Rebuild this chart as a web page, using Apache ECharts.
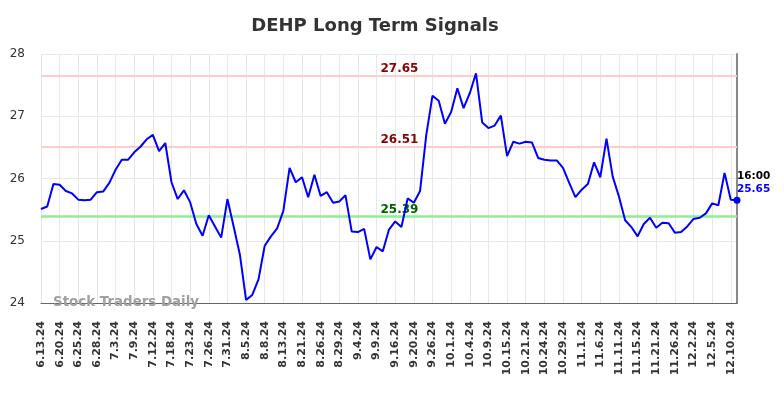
<!DOCTYPE html>
<html>
<head>
<meta charset="utf-8">
<script src="https://cdn.jsdelivr.net/npm/echarts@6/dist/echarts.min.js"></script>
<style>
html,body{margin:0;padding:0;background:#fff;}
#chart{width:784px;height:398px;}
</style>
</head>
<body>
<div id="chart"></div>
<script>
var titleText = 'DEHP Long Term Signals';
var watermarkText = 'Stock Traders Daily';
var tickLabels = ['6.13.24','6.20.24','6.25.24','6.28.24','7.3.24','7.9.24','7.12.24','7.18.24','7.23.24','7.26.24','7.31.24','8.5.24','8.8.24','8.13.24','8.21.24','8.26.24','8.29.24','9.4.24','9.9.24','9.16.24','9.20.24','9.26.24','10.1.24','10.4.24','10.9.24','10.15.24','10.21.24','10.24.24','10.29.24','11.1.24','11.6.24','11.11.24','11.15.24','11.21.24','11.26.24','12.2.24','12.5.24','12.10.24'];
var pointsPerTick = 3;
var prices = [25.51,25.55,25.91,25.90,25.80,25.76,25.66,25.65,25.66,25.78,
  25.79,25.93,26.14,26.30,26.30,26.42,26.51,26.63,26.70,26.44,
  26.57,25.94,25.67,25.81,25.62,25.27,25.08,25.41,25.23,25.05,
  25.67,25.23,24.78,24.05,24.13,24.38,24.92,25.07,25.20,25.48,
  26.17,25.94,26.02,25.70,26.06,25.72,25.78,25.61,25.63,25.73,
  25.15,25.14,25.19,24.70,24.90,24.83,25.18,25.31,25.22,25.68,
  25.61,25.80,26.70,27.33,27.25,26.88,27.07,27.45,27.13,27.37,
  27.69,26.90,26.81,26.85,27.01,26.36,26.59,26.56,26.59,26.58,
  26.33,26.30,26.29,26.29,26.17,25.93,25.70,25.82,25.91,26.26,
  26.02,26.64,26.03,25.71,25.33,25.22,25.07,25.27,25.37,25.21,
  25.29,25.28,25.13,25.14,25.23,25.35,25.37,25.44,25.60,25.57,
  26.09,25.66,25.65];
var resistanceHigh = 27.65;
var resistanceLow = 26.51;
var support = 25.39;
var lastTime = '16:00';
var yTicks = [24, 25, 26, 27, 28];

var categories = [];
for (var i = 0; i < prices.length; i++) {
  var t = Math.floor(i / pointsPerTick);
  var r = i % pointsPerTick;
  var base = tickLabels[Math.min(t, tickLabels.length - 1)];
  categories.push(r === 0 && t < tickLabels.length ? base : base + '#' + i);
}
var lastIdx = prices.length - 1;
var lastVal = prices[lastIdx];
var labelIdx = 58;

var chart = echarts.init(document.getElementById('chart'), null, {renderer: 'canvas'});
var FONT = 'DejaVu Sans';
var signalLabel = function (val, color) {
  return {
    coord: [labelIdx, val],
    symbol: 'circle', symbolSize: 0,
    label: {
      show: true, position: 'inside', offset: [-2, -7],
      formatter: val.toFixed(2), color: color,
      fontWeight: 'bold', fontSize: 12, fontFamily: FONT
    }
  };
};
chart.setOption({
  animation: false,
  textStyle: {fontFamily: FONT},
  title: {
    text: titleText, left: 370, top: 12, textAlign: 'center',
    textStyle: {fontSize: 18, fontWeight: 'bold', color: '#333', fontFamily: FONT}
  },
  grid: {left: 41, right: 47, top: 54, bottom: 95, containLabel: false},
  xAxis: {
    type: 'category', data: categories, boundaryGap: false,
    axisLine: {show: true, lineStyle: {color: '#666', width: 1}},
    axisTick: {show: false},
    axisLabel: {
      interval: pointsPerTick - 1, rotate: 90, margin: 18,
      fontSize: 11, fontWeight: 'bold', color: '#333', fontFamily: FONT,
      formatter: function (v) { return v.indexOf('#') >= 0 ? '' : v; }
    },
    splitLine: {show: true, interval: pointsPerTick - 1, lineStyle: {color: '#e8e8e8', width: 1}}
  },
  yAxis: [{
    type: 'value', min: yTicks[0], max: yTicks[yTicks.length - 1], interval: 1,
    axisLine: {show: false}, axisTick: {show: false},
    axisLabel: {fontSize: 12, color: '#333', margin: 16, fontFamily: FONT},
    splitLine: {show: true, lineStyle: {color: '#e8e8e8', width: 1}}
  }, {
    type: 'value', position: 'right', min: yTicks[0], max: yTicks[yTicks.length - 1], interval: 1,
    axisLine: {show: true, lineStyle: {color: '#888', width: 2}},
    axisTick: {show: false}, axisLabel: {show: false}, splitLine: {show: false}
  }],
  graphic: [{
    type: 'text', left: 53, top: 296, z: 100,
    style: {text: watermarkText, font: 'bold 13.4px "DejaVu Sans"', fill: '#a0a0a0'}
  }],
  series: [{
    type: 'line', data: prices, yAxisIndex: 0,
    showSymbol: false, symbol: 'none',
    lineStyle: {color: '#0000ff', width: 2},
    z: 5,
    markLine: {
      silent: true, symbol: 'none', animation: false,
      label: {show: false},
      data: [
        {yAxis: resistanceHigh, lineStyle: {color: '#ffcccc', width: 2, type: 'solid'}},
        {yAxis: resistanceLow, lineStyle: {color: '#ffcccc', width: 2, type: 'solid'}},
        {yAxis: support, lineStyle: {color: '#90ee90', width: 2.5, type: 'solid'}}
      ]
    },
    markPoint: {
      silent: true, animation: false,
      data: [
        signalLabel(resistanceHigh, '#8b0000'),
        signalLabel(resistanceLow, '#8b0000'),
        signalLabel(support, '#006400'),
        {
          coord: [lastIdx, lastVal], symbol: 'circle', symbolSize: 7,
          itemStyle: {color: '#0000ff'},
          label: {
            show: true, position: [3.5, -27], align: 'left', verticalAlign: 'top',
            formatter: '{t|' + lastTime + '}\n{v|' + lastVal.toFixed(2) + '}',
            rich: {
              t: {color: '#000', fontWeight: 'bold', fontSize: 10.5, lineHeight: 13, fontFamily: FONT},
              v: {color: '#0000ff', fontWeight: 'bold', fontSize: 10.5, lineHeight: 13, fontFamily: FONT}
            }
          }
        }
      ]
    }
  }]
});
</script>
</body>
</html>
